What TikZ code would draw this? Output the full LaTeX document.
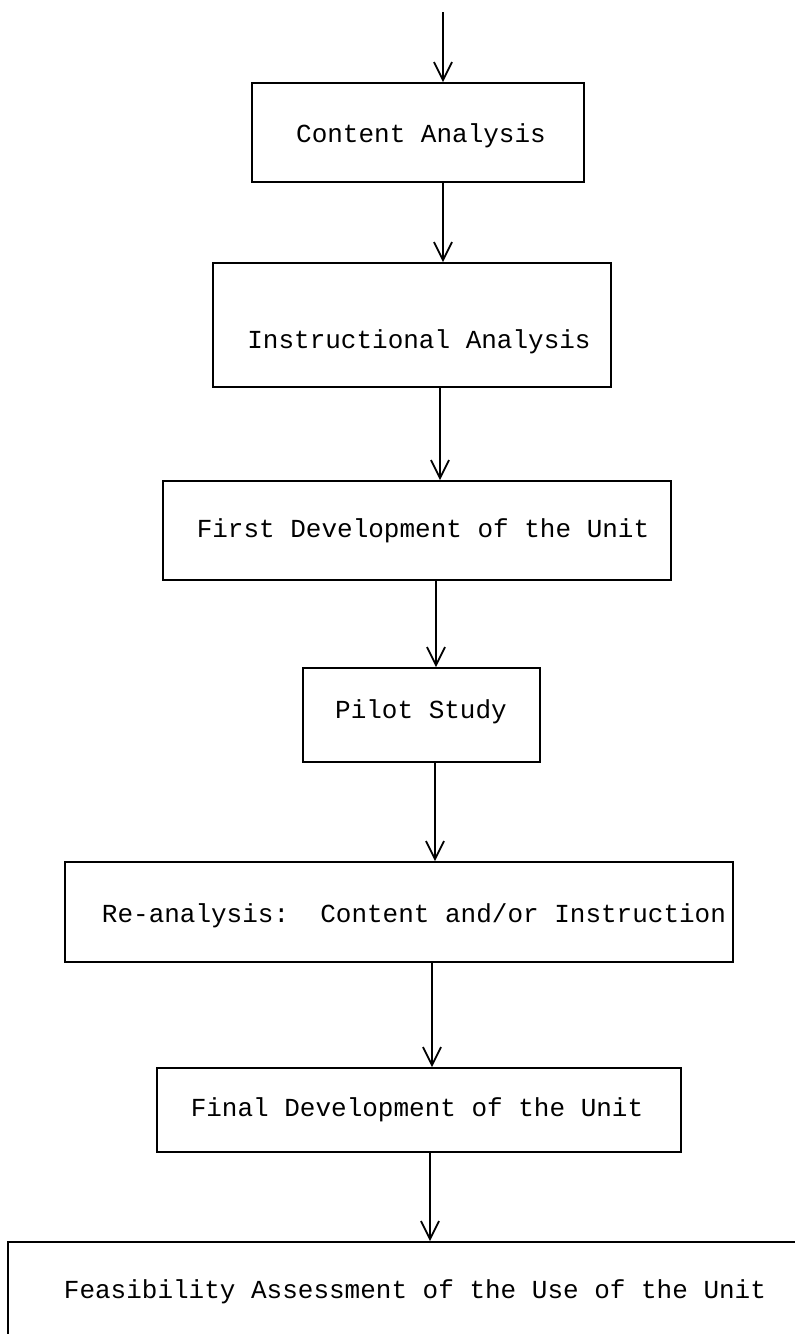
\documentclass[tikz,border=0pt]{standalone}
\usepackage{fontspec}
\setmonofont{Liberation Mono}
\usetikzlibrary{arrows.meta}
\begin{document}
\begin{tikzpicture}[x=0.5pt,y=-0.5pt,
  box/.style={draw,line width=0.9pt,rectangle,inner sep=0pt},
  lbl/.style={font=\ttfamily\fontsize{13}{15}\selectfont,inner sep=0pt,anchor=center},
  arr/.style={line width=0.9pt,-{Straight Barb[length=9pt,width=9pt,line width=0.9pt]}}]
\useasboundingbox (0,0) rectangle (795,1334);
\clip (0,0) rectangle (795,1334);
% boxes
\node[box,minimum width=166pt,minimum height=49.5pt] (b1) at (418,132.5) {};
\node[box,minimum width=199pt,minimum height=62pt] (b2) at (412,325) {};
\node[box,minimum width=254pt,minimum height=49.5pt] (b3) at (417,530.5) {};
\node[box,minimum width=118.5pt,minimum height=47pt] (b4) at (421.5,715) {};
\node[box,minimum width=334pt,minimum height=50pt] (b5) at (399,912) {};
\node[box,minimum width=262pt,minimum height=42pt] (b6) at (419,1110) {};
\node[box,minimum width=401pt,minimum height=51.5pt] (b7) at (409,1293.5) {};
% labels
\node[lbl] (t1) at (421,136) {Content Analysis};
\node[lbl] (t2) at (419,342) {Instructional Analysis};
\node[lbl] (t3) at (423,531) {First Development of the Unit};
\node[lbl] (t4) at (421,712) {Pilot Study};
\node[lbl] (t5) at (414,916) {Re-analysis:\ \ Content and/or Instruction};
\node[lbl] (t6) at (417,1110) {Final Development of the Unit};
\node[lbl] (t7) at (415,1292) {Feasibility Assessment of the Use of the Unit};
% arrow x positions
\coordinate (s0) at (443,12);
\coordinate (x1) at (443,0);
\coordinate (x2) at (440,0);
\coordinate (x3) at (436,0);
\coordinate (x4) at (435,0);
\coordinate (x5) at (432,0);
\coordinate (x6) at (430,0);
% connectors
\draw[arr] (s0) -- (s0 |- b1.north);
\draw[arr] (b1.south -| x1) -- (b2.north -| x1);
\draw[arr] (b2.south -| x2) -- (b3.north -| x2);
\draw[arr] (b3.south -| x3) -- (b4.north -| x3);
\draw[arr] (b4.south -| x4) -- (b5.north -| x4);
\draw[arr] (b5.south -| x5) -- (b6.north -| x5);
\draw[arr] (b6.south -| x6) -- (b7.north -| x6);
\end{tikzpicture}
\end{document}
